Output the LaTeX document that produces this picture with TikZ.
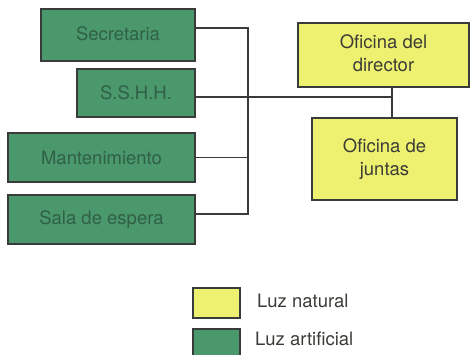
\documentclass[tikz,border=0pt]{standalone}
\usepackage{fontspec}
\setmainfont{TeX Gyre Heros}
\definecolor{gfill}{RGB}{74,152,108}
\definecolor{gtext}{RGB}{48,96,70}
\definecolor{yfill}{RGB}{238,241,112}
\definecolor{edge}{RGB}{55,60,58}
\definecolor{ytext}{RGB}{60,60,55}
\tikzset{
  greenbox/.style={draw=edge, line width=1.4pt, fill=gfill, text=gtext, inner sep=0pt,
    font=\fontsize{18.5}{22}\selectfont},
  yellowbox/.style={draw=edge, line width=1.4pt, fill=yfill, text=ytext, inner sep=0pt,
    align=center, font=\fontsize{18.5}{23}\selectfont},
  wire/.style={draw=edge, line width=1.3pt},
  legtext/.style={text=ytext, anchor=west, inner sep=0pt, font=\fontsize{18.5}{22}\selectfont}
}
\begin{document}
\begin{tikzpicture}[x=1pt,y=-1pt]
\useasboundingbox (0,0) rectangle (470,355);
\clip (0,0) rectangle (470,355);
\fill[white] (0,0) rectangle (470,355);
% green boxes
\node[greenbox, minimum width=154, minimum height=52] (sec) at (118,35) {\raisebox{3pt}{Secretaria}};
\node[greenbox, minimum width=118, minimum height=48] (sshh) at (136,93) {S.S.H.H.};
\node[greenbox, minimum width=187, minimum height=49] (mant) at (101.5,157.5) {Mantenimiento};
\node[greenbox, minimum width=187, minimum height=49] (sala) at (101.5,219.5) {\raisebox{3pt}{Sala de espera}};
% yellow boxes
\node[yellowbox, minimum width=171, minimum height=64] (dir) at (383.5,55) {\raisebox{2pt}{\begin{tabular}{@{}c@{}}Oficina del\\director\end{tabular}}};
\node[yellowbox, minimum width=145, minimum height=82] (jun) at (384.5,159) {\raisebox{5pt}{\begin{tabular}{@{}c@{}}Oficina de\\juntas\end{tabular}}};
% bus coordinates
\coordinate (bt) at (248,28);
\coordinate (bb) at (248,214);
\coordinate (jn) at (392,97);
% connectors
\draw[wire] (sec.east |- bt) -- (bt) -- (bb) -- (sala.east |- bb);
\draw[wire] (mant.east) -- (mant.east -| bt);
\draw[wire] (sshh.east |- jn) -- (jn);
\draw[wire] (dir.south -| jn) -- (jun.north -| jn);
% legend
\node[draw=edge, line width=1.4pt, fill=yfill, minimum width=47, minimum height=30, inner sep=0pt] (ly) at (216.5,303) {};
\node[draw=edge, line width=1.4pt, fill=gfill, minimum width=47, minimum height=32, inner sep=0pt] (lg) at (216.5,345) {};
\node[legtext] (tn) at (257,301) {Luz natural};
\node[legtext] (ta) at (255,339) {Luz artificial};
\end{tikzpicture}
\end{document}
